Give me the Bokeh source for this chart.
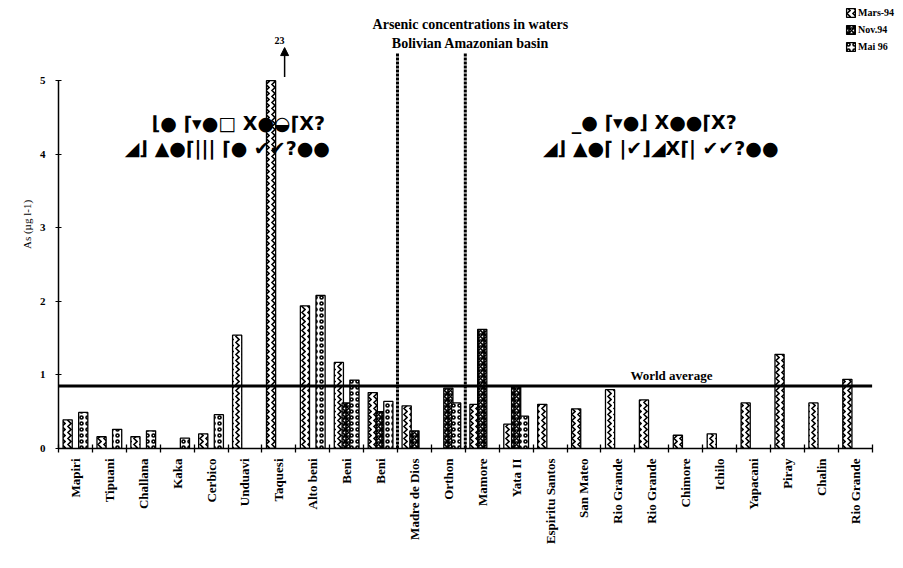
import numpy as np
from bokeh.plotting import figure
from bokeh.models import (ColumnDataSource, FixedTicker, Label, Arrow, NormalHead,
                          Legend, LegendItem, Range1d)
from bokeh.embed import file_html
from bokeh.resources import INLINE

# ---------------- data ----------------
sites = ["Mapiri", "Tipuani", "Challana", "Kaka", "Cerbico", "Unduavi", "Taquesi",
         "Alto beni", "Beni", "Beni", "Madre de Dios", "Orthon", "Mamore", "Yata II",
         "Espiritu Santos", "San Mateo", "Rio Grande", "Rio Grande", "Chimore", "Ichilo",
         "Yapacani", "Piray", "Chalin", "Rio Grande"]
mars94 = [0.39, 0.16, 0.16, None, 0.20, 1.54, 23.0, 1.94, 1.17, 0.76, 0.58, None,
          0.60, 0.33, 0.60, 0.54, 0.80, 0.66, 0.18, 0.20, 0.62, 1.28, 0.62, 0.94]
nov94 = [None, None, None, None, None, None, None, None, 0.62, 0.50, 0.24, 0.82,
         1.62, 0.84, None, None, None, None, None, None, None, None, None, None]
mai96 = [0.49, 0.26, 0.24, 0.14, 0.46, None, None, 2.08, 0.93, 0.64, None, 0.62,
         None, 0.44, None, None, None, None, None, None, None, None, None, None]
series_names = ["Mars-94", "Nov.94", "Mai 96"]
world_average = 0.85
y_ticks = [0, 1, 2, 3, 4, 5]
divider_after = [9, 11]          # dotted separators after these site indices
off_scale_index = 6              # Taquesi, value 23 shown with an arrow

Y_MAX = 5
SERIF = "Liberation Serif"
n = len(sites)
X_LO, X_HI = -0.5, n - 0.5

p = figure(width=895, height=552, x_range=Range1d(X_LO, 24.19), y_range=Range1d(0, 6.09),
           output_backend="svg", toolbar_location=None,
           min_border_left=58, min_border_right=0, min_border_top=0, min_border_bottom=104)
p.outline_line_color = None
p.xgrid.visible = False
p.ygrid.visible = False
p.background_fill_color = "white"

offsets = [-0.23, 0.0, 0.23]
patterns = ["vertical_wave", "criss_cross", "ring"]
scales = [6, 6, 6]
weights = [1.6, 1.7, 1.6]
renderers = []
for vals, off, pat, sc, wt in zip([mars94, nov94, mai96], offsets, patterns, scales, weights):
    xs = [i + off for i, v in enumerate(vals) if v is not None]
    tops = [min(v, Y_MAX) for v in vals if v is not None]
    src = ColumnDataSource(dict(x=xs, top=tops))
    r = p.vbar(x="x", top="top", bottom=0, width=0.27, source=src,
               fill_color="white", line_color="black", line_width=1.3,
               hatch_pattern=pat, hatch_color="black", hatch_scale=sc, hatch_weight=wt)
    renderers.append(r)

# world average
p.segment(x0=[X_LO], y0=[world_average], x1=[X_HI], y1=[world_average],
          line_color="black", line_width=3)
p.add_layout(Label(x=17.58, y=world_average + 0.04, text="World average", text_align="center",
                   text_baseline="bottom", text_font=SERIF, text_font_style="bold",
                   text_font_size="13px", text_color="black"))

# dotted dividers
p.segment(x0=[d + 0.5 for d in divider_after], y0=0, x1=[d + 0.5 for d in divider_after],
          y1=5.38, line_color="black", line_width=3, line_dash="3 1")

# off-scale arrow
ax = off_scale_index + 0.17
p.add_layout(Arrow(end=NormalHead(size=8, fill_color="black", line_color="black"),
                   x_start=ax, y_start=5.05, x_end=ax, y_end=5.45,
                   line_color="black", line_width=1.5))
p.add_layout(Label(x=ax - 0.15, y=5.5, text=str(int(mars94[off_scale_index])),
                   text_align="center", text_baseline="bottom", text_font=SERIF,
                   text_font_style="bold", text_font_size="10px", text_color="black"))

# title
p.add_layout(Label(x=11.65, y=5.77, text="Arsenic concentrations in waters", text_align="center",
                   text_baseline="middle", text_font=SERIF, text_font_style="bold",
                   text_font_size="14px", text_color="black"))
p.add_layout(Label(x=11.65, y=5.51, text="Bolivian Amazonian basin", text_align="center",
                   text_baseline="middle", text_font=SERIF, text_font_style="bold",
                   text_font_size="14px", text_color="black"))

# garbled (symbol-font) zone labels as they appear in the scan
garbled = [(4.9, 4.43, "⌊●  ⌈▾●□ X●◒⌈X?"), (4.87, 4.09, "◢⌋  ▲●⌈|||  ⌈●   ✔✔?●●"),
           (17.17, 4.44, "_●  ⌈▾●⌋ X●●⌈X?"), (17.85, 4.08, "◢⌋  ▲●⌈    |✔⌋◢X⌈|   ✔✔?●●")]
for gx, gy, gt in garbled:
    p.add_layout(Label(x=gx, y=gy, text=gt, text_align="center", text_baseline="middle",
                       text_font="DejaVu Sans", text_font_style="bold", text_font_size="19px",
                       text_color="black"))

# axes
xa = p.xaxis[0]
xa.bounds = (X_LO, X_HI)
xa.ticker = FixedTicker(ticks=list(range(n)), minor_ticks=[i - 0.5 for i in range(n + 1)])
xa.major_label_overrides = {i: s for i, s in enumerate(sites)}
xa.major_label_orientation = np.pi / 2
xa.major_tick_in = 0
xa.major_tick_out = 0
xa.minor_tick_in = 4
xa.minor_tick_out = 4
xa.major_label_standoff = 6
xa.major_label_text_font = SERIF
xa.major_label_text_font_style = "bold"
xa.major_label_text_font_size = "13px"
xa.major_label_text_color = "black"
xa.axis_line_width = 1.5
xa.minor_tick_line_width = 1.3

ya = p.yaxis[0]
ya.ticker = FixedTicker(ticks=y_ticks, minor_ticks=[])
ya.bounds = (0, Y_MAX)
ya.major_tick_in = 3
ya.major_tick_out = 3
ya.major_label_standoff = 10
ya.major_label_text_font = SERIF
ya.major_label_text_font_style = "bold"
ya.major_label_text_font_size = "11px"
ya.major_label_text_color = "black"
ya.axis_label = "As (µg l-1)"
ya.axis_label_text_font = SERIF
ya.axis_label_text_font_style = "normal"
ya.axis_label_text_font_size = "11px"
ya.axis_label_text_color = "black"
ya.axis_label_standoff = 4
ya.axis_line_width = 1.5

legend = Legend(items=[LegendItem(label=nm, renderers=[r]) for nm, r in zip(series_names, renderers)],
                location=(787, 396), background_fill_alpha=0, border_line_color=None,
                label_text_font=SERIF, label_text_font_style="bold", label_text_font_size="10px",
                label_text_color="black",
                glyph_width=11, glyph_height=11, spacing=5, padding=0, margin=0,
                label_standoff=2, label_height=12)
p.add_layout(legend)

open("out.html", "w").write(file_html(p, INLINE))
